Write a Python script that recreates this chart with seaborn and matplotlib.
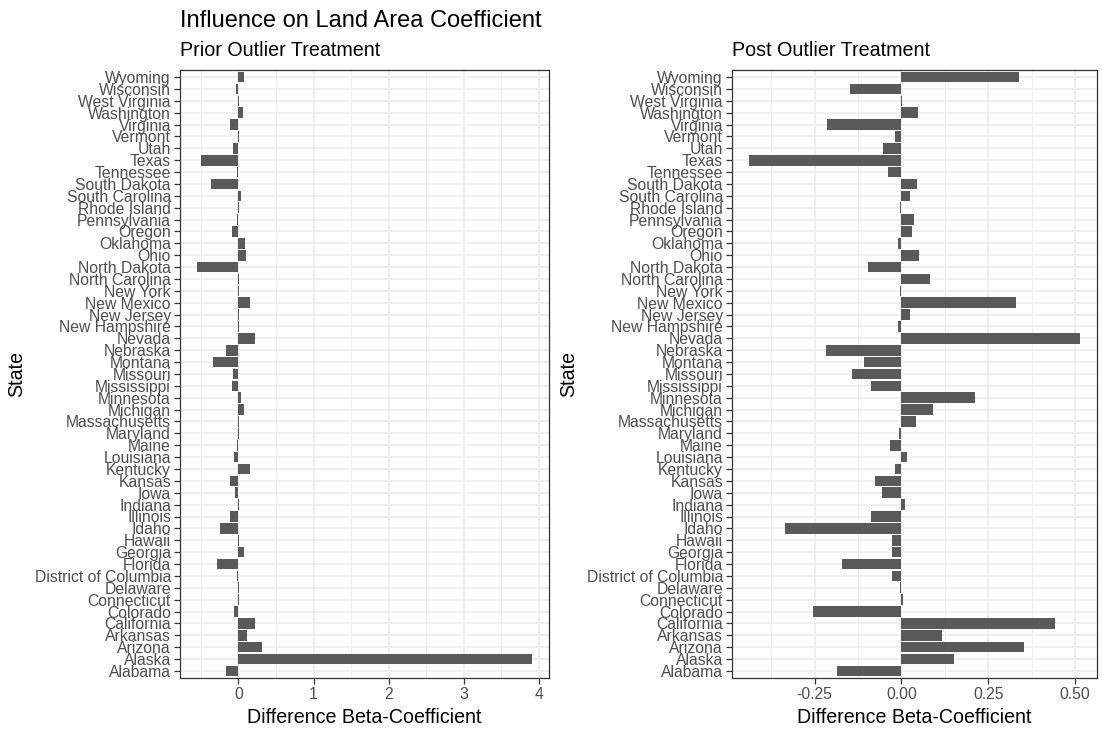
import matplotlib
matplotlib.use("Agg")
import matplotlib.pyplot as plt
import seaborn as sns
import pandas as pd

states = ["Alabama", "Alaska", "Arizona", "Arkansas", "California", "Colorado",
          "Connecticut", "Delaware", "District of Columbia", "Florida", "Georgia",
          "Hawaii", "Idaho", "Illinois", "Indiana", "Iowa", "Kansas", "Kentucky",
          "Louisiana", "Maine", "Maryland", "Massachusetts", "Michigan", "Minnesota",
          "Mississippi", "Missouri", "Montana", "Nebraska", "Nevada", "New Hampshire",
          "New Jersey", "New Mexico", "New York", "North Carolina", "North Dakota",
          "Ohio", "Oklahoma", "Oregon", "Pennsylvania", "Rhode Island",
          "South Carolina", "South Dakota", "Tennessee", "Texas", "Utah", "Vermont",
          "Virginia", "Washington", "West Virginia", "Wisconsin", "Wyoming"]

prior = [-0.17, 3.915, 0.316, 0.12, 0.226, -0.06,
         0.002, 0.002, -0.02, -0.29, 0.08,
         0.003, -0.24, -0.118, 0.003, -0.04, -0.108, 0.16,
         -0.066, -0.015, 0.003, 0.01, 0.08, 0.033,
         -0.09, -0.075, -0.335, -0.17, 0.217, 0.003,
         0.01, 0.15, 0.003, 0.005, -0.556,
         0.10, 0.09, -0.085, -0.02, 0.002,
         0.028, -0.36, -0.02, -0.50, -0.07, 0.002,
         -0.108, 0.057, 0.005, -0.03, 0.08]

post = [-0.186, 0.151, 0.352, 0.117, 0.443, -0.255,
        0.004, -0.004, -0.028, -0.171, -0.028,
        -0.028, -0.335, -0.087, 0.011, -0.057, -0.077, -0.018,
        0.017, -0.033, -0.008, 0.042, 0.091, 0.213,
        -0.089, -0.143, -0.108, -0.216, 0.515, -0.011,
        0.024, 0.33, -0.004, 0.081, -0.095,
        0.050, -0.010, 0.031, 0.036, -0.004,
        0.024, 0.046, -0.040, -0.44, -0.054, -0.018,
        -0.214, 0.048, 0.002, -0.147, 0.339]

left_ticks = [0, 1, 2, 3, 4]
left_ticklabels = ["0", "1", "2", "3", "4"]
left_minor = [-0.5, 0.5, 1.5, 2.5, 3.5]
right_ticks = [-0.25, 0.0, 0.25, 0.5]
right_ticklabels = ["-0.25", "0.00", "0.25", "0.50"]
right_minor = [-0.375, -0.125, 0.125, 0.375]

sns.set_theme(style="white")
plt.rcParams["font.family"] = ["Liberation Sans", "DejaVu Sans"]

W, H = 1102, 740
fig = plt.figure(figsize=(W / 100, H / 100), dpi=100)
top_px, bot_px = 70, 678
ax1 = fig.add_axes([180 / W, 1 - bot_px / H, (549 - 180) / W, (bot_px - top_px) / H])
ax2 = fig.add_axes([732 / W, 1 - bot_px / H, (1097 - 732) / W, (bot_px - top_px) / H])

df = pd.DataFrame({"State": states, "Prior": prior, "Post": post})
order = states[::-1]

def panel(ax, col, ticks, ticklabels, minors, subtitle):
    sns.barplot(data=df, x=col, y="State", order=order, orient="h",
                color="#595959", saturation=1, width=0.9, linewidth=0,
                errorbar=None, ax=ax)
    vals = df[col]
    lo, hi = min(0, vals.min()), max(0, vals.max())
    pad = 0.05 * (hi - lo)
    ax.set_xlim(lo - pad, hi + pad)
    n = len(states)
    ax.set_ylim(n - 1 + 0.6, -0.6)
    ax.set_xticks(ticks)
    ax.set_xticklabels(ticklabels)
    ax.set_xticks(minors, minor=True)
    ax.set_axisbelow(True)
    ax.grid(True, which="major", axis="both", color="#EBEBEB", linewidth=1.1)
    ax.grid(True, which="minor", axis="x", color="#EBEBEB", linewidth=0.55)
    ax.tick_params(axis="both", which="major", length=4, width=0.9,
                   color="#333333", labelcolor="#4D4D4D", labelsize=11.3, pad=2.5)
    ax.tick_params(axis="x", which="minor", length=0)
    ax.tick_params(axis="both", which="major", bottom=True, left=True)
    for s in ax.spines.values():
        s.set_visible(True)
        s.set_color("#333333")
        s.set_linewidth(0.9)
    ax.set_xlabel("Difference Beta-Coefficient", fontsize=14.1, color="black", labelpad=4)
    ax.set_ylabel("State", fontsize=14.1, color="black", labelpad=6)
    pos = ax.get_position()
    fig.text(pos.x0, 1 - 55.5 / H, subtitle, fontsize=14.2, ha="left",
             va="baseline", color="black")

panel(ax1, "Prior", left_ticks, left_ticklabels, left_minor, "Prior Outlier Treatment")
panel(ax2, "Post", right_ticks, right_ticklabels, right_minor, "Post Outlier Treatment")

fig.text(180 / W, 1 - 26.7 / H, "Influence on Land Area Coefficient",
         fontsize=17, ha="left", va="baseline", color="black")

fig.savefig("out.png", dpi=100, facecolor="white")
